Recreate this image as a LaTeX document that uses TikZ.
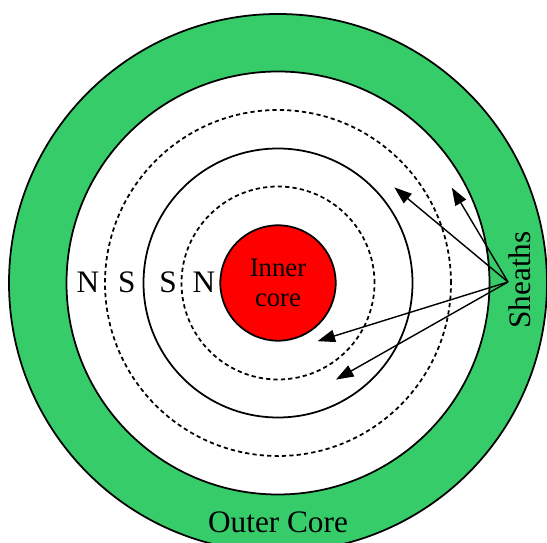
\documentclass[tikz,border=0pt]{standalone}
\usepackage{fontspec}
\setmainfont{Liberation Serif}
\usetikzlibrary{arrows.meta}
\definecolor{mygreen}{RGB}{55,204,106}
\definecolor{myred}{RGB}{255,0,0}
\tikzset{
  ring/.style={draw=black, line width=1pt},
  field/.style={ring, dash pattern=on 2.4pt off 1.8pt},
  pole/.style={anchor=base, font=\fontsize{17.8}{21}\selectfont},
  pointer/.style={line width=0.8pt, -{Triangle[length=10pt,width=7pt]}}
}
\begin{document}
\begin{tikzpicture}

\useasboundingbox (0,0) rectangle (10.94,10.86);
\clip (0,0) rectangle (10.94,10.86);
\coordinate (c) at (5.56,5.2);

% outer core
\draw[ring, fill=mygreen] (c) circle (5.38);
\draw[ring, fill=white] (c) circle (4.23);

% field lines and sheath
\draw[field] (c) circle (3.46);
\draw[ring] (c) circle (2.69);
\draw[field] (c) circle (1.93);

% inner core
\node[ring, circle, fill=myred, minimum size=2.308cm, inner sep=0pt, align=center,
      font=\fontsize{15.2}{17.5}\selectfont] (inner) at (c) {Inner\\core};

% poles
\node[pole] (n1) at (1.76,5.006) {N};
\node[pole] (s1) at (2.534,5.006) {S};
\node[pole] (s2) at (3.36,5.006) {S};
\node[pole] (n2) at (4.08,5.006) {N};

% labels
\node[pole] (outer) at (5.56,0.2) {Outer Core};
\node[pole, rotate=90] (sheaths) at (10.6,5.26) {Sheaths};

% arrows to the sheaths
\coordinate (src) at (10.16,5.22);
\coordinate (t1) at (7.886,7.112);
\coordinate (t2) at (9.036,7.106);
\coordinate (t3) at (6.35,4.036);
\coordinate (t4) at (6.72,3.268);
\foreach \t in {t1,t2,t3,t4}
  \draw[pointer] (src) -- (\t);

\end{tikzpicture}
\end{document}
